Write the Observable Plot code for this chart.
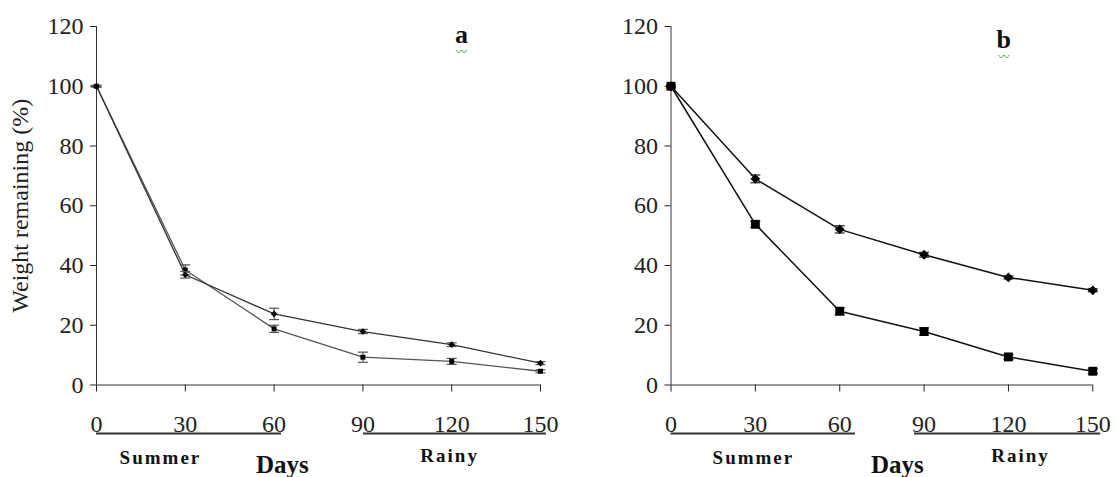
<!DOCTYPE html>
<html>
<head>
<meta charset="utf-8">
<script src="https://cdn.jsdelivr.net/npm/d3@7"></script>
<script src="https://cdn.jsdelivr.net/npm/@observablehq/plot@0.6"></script>
<style>
  html, body { margin: 0; padding: 0; background: #fff; }
  #wrap { display: flex; width: 1117px; height: 477px; overflow: hidden; }
</style>
</head>
<body>
<div id="wrap"></div>
<script>
// ---- data ----
const days = [0, 30, 60, 90, 120, 150];
const yTicks = [0, 20, 40, 60, 80, 100, 120];

const aDiamond    = [100, 36.9, 23.8, 17.9, 13.5, 7.3];
const aDiamondErr = [0.3, 1.1, 1.9, 0.7, 0.6, 0.5];
const aSquare     = [100, 38.5, 18.8, 9.3, 7.9, 4.6];
const aSquareErr  = [0.3, 1.7, 1.2, 1.7, 1.0, 0.5];

const bDiamond    = [100, 69.0, 52.1, 43.6, 36.0, 31.7];
const bDiamondErr = [0.5, 1.3, 1.2, 0.8, 0.5, 0.5];
const bSquare     = [100, 53.8, 24.7, 17.9, 9.4, 4.6];
const bSquareErr  = [0.5, 1.0, 1.2, 1.2, 0.8, 0.8];

const yLabel = "Weight remaining (%)";
const xLabel = "Days";
const seasons = ["Summer", "Rainy"];

const SERIF = "Liberation Serif";

function rows(vals, errs) {
  return days.map((d, i) => ({day: d, v: vals[i], e: errs[i]}));
}

const cap = {
  draw(ctx, size) {
    const w = Math.sqrt(size / Math.PI);
    ctx.moveTo(-w, 0);
    ctx.lineTo(w, 0);
  }
};

function series(data, symbol, r, lineColor, errColor, lineW) {
  return [
    Plot.line(data, {x: "day", y: "v", stroke: lineColor, strokeWidth: lineW}),
    Plot.ruleX(data, {x: "day", y1: d => d.v - d.e, y2: d => d.v + d.e, stroke: errColor, strokeWidth: 1.2}),
    Plot.dot(data, {x: "day", y: d => d.v + d.e, symbol: cap, r: 5, fill: "none", stroke: errColor, strokeWidth: 1.2}),
    Plot.dot(data, {x: "day", y: d => d.v - d.e, symbol: cap, r: 5, fill: "none", stroke: errColor, strokeWidth: 1.2}),
    Plot.dot(data, {x: "day", y: "v", symbol, r, fill: "#000", stroke: "none"})
  ];
}

function panel(cfg) {
  const plot = Plot.plot({
    width: cfg.width,
    height: 477,
    marginLeft: cfg.marginLeft,
    marginRight: cfg.marginRight,
    marginTop: 26,
    marginBottom: 92.5,
    style: {fontFamily: SERIF, fontSize: "24px", color: "#222", background: "#fff", overflow: "visible"},
    x: {domain: [0, 150], ticks: days, tickSize: 7, tickPadding: 23, tickFormat: d => String(d), label: null},
    y: {domain: [0, 120], ticks: yTicks, tickSize: 6, tickPadding: 7, tickFormat: d => String(d), label: null},
    marks: [
      Plot.ruleX([0], {stroke: "#333", strokeWidth: 1}),
      Plot.ruleY([0], {stroke: "#333", strokeWidth: 1}),
      ...series(cfg.square, "square", cfg.sqR, cfg.sqLine, cfg.errColor, cfg.lineW),
      ...series(cfg.diamond, "diamond2", cfg.diR, cfg.diLine, cfg.errColor, cfg.lineW),
      // season underlines
      Plot.ruleY([0], {x1: 0, x2: cfg.summerEnd, dy: 48.5, stroke: "#333", strokeWidth: 2}),
      Plot.ruleY([0], {x1: cfg.rainyStart, x2: cfg.rainyEnd, dy: 48.5, stroke: "#333", strokeWidth: 2}),
      Plot.text([seasons[0]], {x: cfg.summerX, y: 0, dy: 73, fontWeight: "bold", fontSize: 19, fill: "#111", fontFamily: SERIF}),
      Plot.text([seasons[1]], {x: cfg.rainyX, y: 0, dy: 70.5, fontWeight: "bold", fontSize: 19, fill: "#111", fontFamily: SERIF}),
      Plot.text([xLabel], {x: cfg.daysX, y: 0, dy: 80, fontWeight: "bold", fontSize: 25, fill: "#111", fontFamily: SERIF}),
      // panel letter
      Plot.text([cfg.letter], {x: cfg.letterX, y: cfg.letterY, fontWeight: "bold", fontSize: 26, fill: "#111", fontFamily: SERIF}),
      Plot.text(["〰"], {x: cfg.letterX, y: cfg.letterY, dy: 18, fontSize: 11, fill: "#3a9a3a", fontFamily: "Noto Sans CJK SC"}),
      ...(cfg.yTitle ? [Plot.text([yLabel], {frameAnchor: "left", dx: -76, textAnchor: "middle", rotate: -90, fontSize: 24, fill: "#222", fontFamily: SERIF})] : [])
    ]
  });
  const svg = d3.select(plot);
  svg.selectAll("text").filter(function() { return this.textContent !== "〰"; })
    .attr("font-family", SERIF);
  svg.selectAll("text").filter(function() { return seasons.includes(this.textContent); })
    .attr("letter-spacing", "2px");
  return plot;
}

const wrap = document.getElementById("wrap");
wrap.appendChild(panel({
  width: 560, marginLeft: 96, marginRight: 20,
  square: rows(aSquare, aSquareErr), diamond: rows(aDiamond, aDiamondErr),
  sqR: 2.8, diR: 3, sqLine: "#555", diLine: "#333", errColor: "#555", lineW: 1.3,
  summerEnd: 62.5, rainyStart: 90.2, rainyEnd: 152,
  summerX: 21.6, rainyX: 119.3, daysX: 62.8,
  letter: "a", letterX: 123.3, letterY: 117.3, yTitle: true
}));
wrap.appendChild(panel({
  width: 557, marginLeft: 110.5, marginRight: 24.7,
  square: rows(bSquare, bSquareErr), diamond: rows(bDiamond, bDiamondErr),
  sqR: 5, diR: 4.4, sqLine: "#111", diLine: "#111", errColor: "#222", lineW: 1.5,
  summerEnd: 65.6, rainyStart: 86.6, rainyEnd: 152.8,
  summerX: 29.3, rainyX: 124.3, daysX: 80.5,
  letter: "b", letterX: 118.3, letterY: 115.7, yTitle: false
}));
</script>
</body>
</html>
